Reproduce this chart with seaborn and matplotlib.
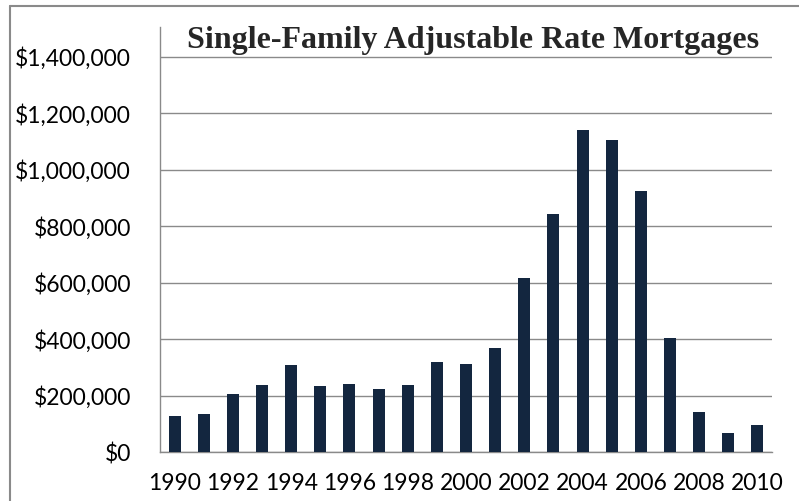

# Import the necessary libraries
import numpy as np
import pandas as pd
import matplotlib
matplotlib.use("Agg")
import matplotlib.pyplot as plt
from matplotlib.lines import Line2D
from matplotlib.ticker import FuncFormatter
import seaborn as sns

# Data
years = list(range(1990, 2011))
volumes = [128000, 137000, 207000, 238000, 310000, 235000, 242000, 225000,
           238000, 320000, 314000, 370000, 616000, 842000, 1140000, 1105000,
           926000, 405000, 142000, 69000, 98000]
y_ticks = [0, 200000, 400000, 600000, 800000, 1000000, 1200000, 1400000]
x_labels = [str(y) if y % 2 == 0 else "" for y in years]

df = pd.DataFrame({"Year": [str(y) for y in years], "Volume": volumes})

sns.set_style("white")
plt.rcParams['font.family'] = ['Lato', 'DejaVu Sans']

gray = "#8a8a8a"
fig = plt.figure(figsize=(7.99, 5.01), dpi=100)
ax = fig.add_axes([160 / 799, 1 - 452.3 / 501, 612 / 799, (452.3 - 27) / 501])

sns.barplot(data=df, x="Year", y="Volume", color="#13263f", width=0.41,
            saturation=1, edgecolor="none", ax=ax, zorder=3)

# Axes limits and grid
ax.set_xlim(-0.5, len(years) - 0.5)
ax.set_ylim(0, 1505000)
ax.set_yticks(y_ticks)
ax.yaxis.set_major_formatter(FuncFormatter(lambda v, p: "${:,.0f}".format(v)))
ax.yaxis.grid(True, color=gray, linewidth=1.0, zorder=0)
ax.set_axisbelow(True)

# x ticks: labels at every other year, tick marks between categories
ax.set_xticks(range(len(years)))
ax.set_xticklabels(x_labels)
ax.set_xticks(np.arange(-0.5, len(years)), minor=True)
ax.tick_params(axis="x", which="major", length=0, pad=15, labelsize=16.5, labelcolor="black")
ax.tick_params(axis="x", which="minor", length=7, width=1.0, color=gray, direction="out")
ax.tick_params(axis="y", length=8, width=1.0, color=gray, direction="out", pad=13,
               labelsize=16.5, labelcolor="black")
ax.set_xlabel("")
ax.set_ylabel("")

for side in ["top", "right"]:
    ax.spines[side].set_visible(False)
for side in ["left", "bottom"]:
    ax.spines[side].set_color(gray)
    ax.spines[side].set_linewidth(1.0)

# Title
fig.text(473 / 799, 1 - 48 / 501, "Single-Family Adjustable Rate Mortgages",
         ha="center", va="baseline", fontsize=23, fontweight="bold",
         family="Liberation Serif")

# Chart border (left and top edges visible)
fig.add_artist(Line2D([10 / 799, 10 / 799], [0, 1 - 6 / 501], color=gray, linewidth=1.5))
fig.add_artist(Line2D([10 / 799, 1], [1 - 6 / 501, 1 - 6 / 501], color=gray, linewidth=1.5))

fig.savefig("out.png", dpi=100)
